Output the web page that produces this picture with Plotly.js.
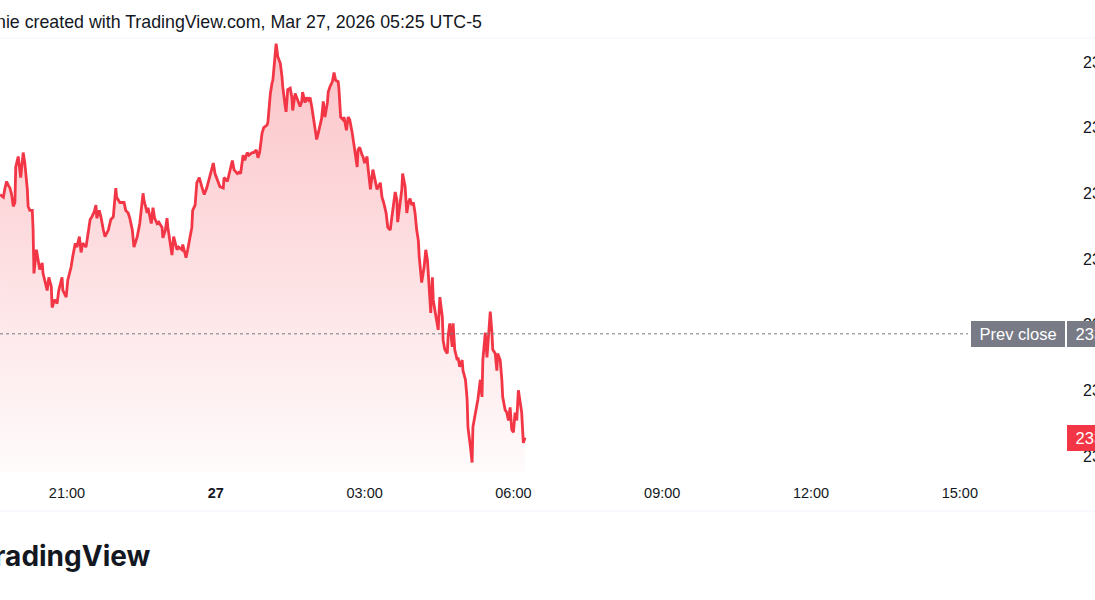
<!DOCTYPE html>
<html>
<head>
<meta charset="utf-8">
<script src="https://cdn.plot.ly/plotly-3.0.1.min.js"></script>
<style>html,body{margin:0;padding:0;background:#fff;overflow:hidden}#chart{width:1095px;height:600px}</style>
</head>
<body>
<div id="chart"></div>
<script>
// minutes since Mar 26 18:00 (UTC-5 display)
const timeMin = [
99,103,105,107,109,111,113,115,117,118,121,124,127,129,132,133,135,138,139,140,143,145,147,150,151,156,158,161,162,165,168,170,174,175,179,181,185,187,190,192,195,197,199,203,205,208,210,213,215,216,219,221,224,226,230,233,236,239,240,244,247,249,251,254,
256,259,261,265,268,272,273,277,278,282,284,286,289,291,295,296,299,301,302,305,307,309,313,315,319,320,324,326,329,331,332,335,337,340,343,346,349,352,355,357,359,361,365,369,370,374,376,380,382,386,388,390,393,395,398,400,404,406,409,411,
413,416,418,422,423,426,428,429,432,433,435,438,440,441,444,445,447,450,452,453,456,458,459,462,464,465,468,470,472,474,476,478,480,482,484,486,488,490,492,495,496,498,501,503,505,508,509,511,514,515,518,520,522,525,526,528,531,532,534,537,538,540,543,544,547,550,553,555,559,561,563,566,568,
571,573,574,577,579,580,583,585,586,589,591,593,595,597,599,601,603,605,606,608,609,612,614,616,618,620,622,623,625,628,629,631,634,635,637,640,641,643,646,647,649,652,653,655,658,659,662,664,665,668,670,671,674,676,677,680,682,683,686,688,689,692,694,695,698,700,701,704,706,707,710,712,714,716,718,720,722,724,726,728,730,732,734
];
const price = [
23499,23497,23504,23509,23506,23504,23499,23490,23493,23520,23528,23512,23531,23523,23503,23490,23487,23487,23472,23439,23457,23449,23442,23447,23439,23426,23436,23429,23413,23419,23416,23426,23436,23426,23421,23434,23444,23452,23462,23459,23467,23455,23462,23459,23467,23480,23482,23486,23491,23481,23487,23482,23472,23467,23472,23480,23482,23504,23497,23493,23493,23493,23487,23485,
23481,23472,23459,23467,23477,23500,23495,23485,23489,23477,23489,23481,23477,23478,23474,23466,23472,23481,23474,23462,23453,23467,23457,23459,23457,23461,23451,23457,23467,23474,23487,23491,23508,23512,23505,23499,23504,23512,23518,23523,23515,23512,23505,23504,23512,23509,23515,23525,23518,23515,23516,23515,23529,23525,23531,23529,23531,23531,23533,23527,
23531,23546,23550,23552,23554,23576,23584,23586,23607,23614,23604,23599,23589,23581,23566,23562,23579,23580,23573,23563,23576,23573,23571,23566,23570,23577,23569,23573,23571,23573,23566,23558,23548,23541,23546,23551,23557,23570,23558,23569,23577,23581,23585,23592,23586,23585,23579,23558,23556,23558,23548,23558,23556,23546,23541,23533,23520,23533,23535,23529,23528,23523,23528,23520,23503,23518,23510,23503,23508,23497,23493,23485,23474,
23472,23482,23487,23501,23495,23478,23493,23503,23515,23505,23485,23493,23496,23491,23493,23485,23472,23464,23452,23434,23432,23444,23457,23449,23432,23409,23436,23419,23411,23401,23396,23421,23406,23388,23381,23378,23391,23401,23383,23401,23381,23373,23375,23368,23373,23365,23358,23343,23322,23307,23295,23322,23333,23337,23343,23358,23345,23373,23394,23375,23386,23410,23394,23381,23378,23365,23378,23373,23358,23345,23335,23333,23327,23337,23320,23318,23333,23327,23350,23343,23333,23310,23314
];
const prevClose = 23393;
const yTicks = [23300, 23350, 23400, 23450, 23500, 23550, 23600];
const xTickVals = [180, 360, 540, 720, 900, 1080, 1260];
const xTickText = ['21:00', '<b>27</b>', '03:00', '06:00', '09:00', '12:00', '15:00'];
const headerText = 'nie created with TradingView.com, Mar 27, 2026 05:25 UTC-5';
const logoText = 'TradingView';

const RED = '#F23645';
const PLOT_W = 1066;
const lastPrice = price[price.length - 1];
const NB = '\u00a0';

const trace = {
  type: 'scatter', mode: 'lines',
  x: timeMin, y: price,
  line: {color: RED, width: 2.8, shape: 'linear'},
  fill: 'tozeroy',
  fillgradient: {
    type: 'vertical',
    start: 23288, stop: 23615,
    colorscale: [[0, 'rgba(242,54,69,0.02)'], [1, 'rgba(242,54,69,0.30)']]
  },
  hoverinfo: 'skip'
};

const layout = {
  width: 1095, height: 600, autosize: false,
  paper_bgcolor: '#ffffff', plot_bgcolor: '#ffffff',
  margin: {l: 0, r: 29, t: 40, b: 128, pad: 0},
  showlegend: false,
  font: {family: 'Liberation Sans, Arial, sans-serif', color: '#131722'},
  xaxis: {
    type: 'linear', range: [98.95, 98.95 + PLOT_W / 0.8267],
    tickvals: xTickVals, ticktext: xTickText,
    showgrid: false, zeroline: false, showline: false, ticks: '',
    tickfont: {size: 14.5, color: '#131722', family: 'Liberation Sans, Arial, sans-serif'},
    ticklabelstandoff: 10, fixedrange: true
  },
  yaxis: {
    side: 'right', range: [23287.8, 23616.7],
    tickvals: yTicks, ticktext: yTicks.map(String),
    showgrid: false, zeroline: false, showline: false, ticks: '',
    tickfont: {size: 16, color: '#131722', family: 'Liberation Sans, Arial, sans-serif'},
    ticklabelstandoff: 16, fixedrange: true
  },
  shapes: [
    {type: 'line', xref: 'paper', yref: 'y', x0: 0, x1: 968 / PLOT_W, y0: prevClose, y1: prevClose,
     line: {color: '#787B86', width: 1, dash: 'dot'}},
    {type: 'line', xref: 'paper', yref: 'paper', x0: 0, x1: 1095 / PLOT_W, y0: (472 - 38) / 432, y1: (472 - 38) / 432,
     line: {color: '#F0F3FA', width: 1}},
    {type: 'line', xref: 'paper', yref: 'paper', x0: 0, x1: 1095 / PLOT_W, y0: (472 - 511) / 432, y1: (472 - 511) / 432,
     line: {color: '#F0F3FA', width: 1}}
  ],
  annotations: [
    {xref: 'paper', yref: 'paper', x: 484 / PLOT_W, y: (472 - 22) / 432, xanchor: 'right', yanchor: 'middle',
     text: headerText, showarrow: false,
     font: {size: 17.8, color: '#131722', family: 'Liberation Sans, Arial, sans-serif'}},
    {xref: 'paper', yref: 'paper', x: 153 / PLOT_W, y: (472 - 556) / 432, xanchor: 'right', yanchor: 'middle',
     text: '<b>' + logoText + '</b>', showarrow: false,
     font: {size: 28, color: '#131722', family: 'Inter, Liberation Sans, sans-serif'}},
    {xref: 'paper', yref: 'y', x: 1065 / PLOT_W, y: prevClose, xanchor: 'right', yanchor: 'middle',
     text: NB + 'Prev close' + NB, showarrow: false, bgcolor: '#787B86', borderpad: 4, borderwidth: 0,
     font: {size: 16.5, color: '#ffffff', family: 'Liberation Sans, Arial, sans-serif'}},
    {xref: 'paper', yref: 'y', x: 1067 / PLOT_W, y: prevClose, xanchor: 'left', yanchor: 'middle',
     text: NB + String(prevClose) + '.0', showarrow: false, bgcolor: '#787B86', borderpad: 4, borderwidth: 0,
     font: {size: 16.5, color: '#ffffff', family: 'Liberation Sans, Arial, sans-serif'}},
    {xref: 'paper', yref: 'y', x: 1067 / PLOT_W, y: lastPrice, xanchor: 'left', yanchor: 'middle',
     text: NB + String(lastPrice) + '.0', showarrow: false, bgcolor: RED, borderpad: 4, borderwidth: 0,
     font: {size: 16.5, color: '#ffffff', family: 'Liberation Sans, Arial, sans-serif'}}
  ]
};

Plotly.newPlot('chart', [trace], layout, {displayModeBar: false, staticPlot: true});
</script>
</body>
</html>
